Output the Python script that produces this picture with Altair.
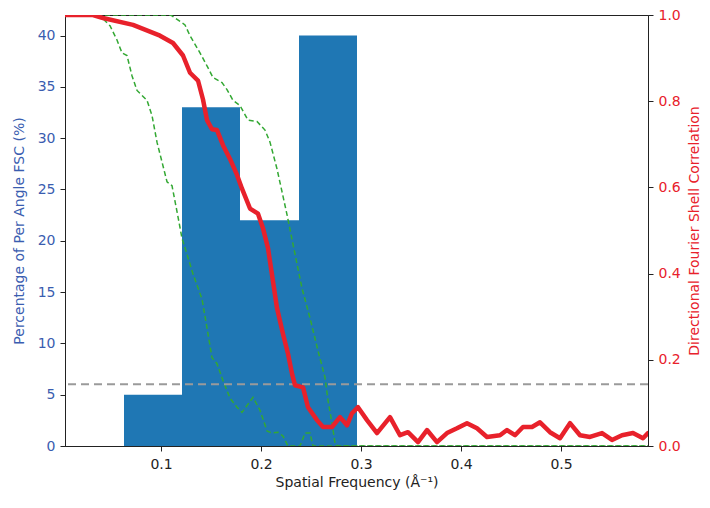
import altair as alt
import pandas as pd

# Histogram of per-angle FSC resolutions
bin_left = [0.063, 0.121, 0.179, 0.238]
bin_right = [0.121, 0.179, 0.238, 0.296]
bin_pct = [5.0, 33.0, 22.0, 40.0]

# Global (mean) directional FSC curve
fsc_freq = [0.004, 0.032, 0.042, 0.072, 0.099, 0.112, 0.122, 0.129, 0.137, 0.142,
            0.146, 0.151, 0.156, 0.162, 0.169, 0.176, 0.181, 0.189, 0.197, 0.202,
            0.207, 0.212, 0.216, 0.222, 0.227, 0.231, 0.234, 0.242, 0.247, 0.256,
            0.262, 0.271, 0.279, 0.286, 0.291, 0.297, 0.306, 0.316, 0.329, 0.339,
            0.347, 0.357, 0.366, 0.376, 0.386, 0.396, 0.406, 0.416, 0.426, 0.439,
            0.446, 0.454, 0.462, 0.471, 0.479, 0.489, 0.499, 0.509, 0.519, 0.529,
            0.541, 0.551, 0.561, 0.572, 0.582, 0.587]
fsc_val = [1.0, 1.0, 0.993, 0.977, 0.952, 0.935, 0.906, 0.866, 0.848, 0.804,
           0.756, 0.735, 0.733, 0.698, 0.666, 0.629, 0.597, 0.551, 0.539, 0.505,
           0.459, 0.382, 0.320, 0.260, 0.214, 0.168, 0.141, 0.136, 0.090, 0.060,
           0.044, 0.044, 0.067, 0.048, 0.076, 0.090, 0.060, 0.030, 0.067, 0.025,
           0.032, 0.009, 0.037, 0.009, 0.030, 0.041, 0.053, 0.041, 0.021, 0.025,
           0.037, 0.025, 0.044, 0.044, 0.055, 0.032, 0.018, 0.053, 0.025, 0.021,
           0.030, 0.014, 0.025, 0.030, 0.018, 0.030]

# Mean - std
lo_freq = [0.004, 0.036, 0.039, 0.049, 0.056, 0.061, 0.066, 0.071, 0.076, 0.086,
           0.091, 0.096, 0.101, 0.106, 0.111, 0.116, 0.121, 0.126, 0.132, 0.141,
           0.146, 0.151, 0.156, 0.162, 0.169, 0.176, 0.181, 0.192, 0.199, 0.206,
           0.211, 0.217, 0.222, 0.227, 0.239, 0.244, 0.249, 0.252, 0.587]
lo_val = [1.0, 1.0, 0.998, 0.975, 0.942, 0.912, 0.906, 0.859, 0.825, 0.802,
          0.767, 0.705, 0.659, 0.613, 0.604, 0.544, 0.482, 0.445, 0.399, 0.341,
          0.274, 0.205, 0.191, 0.152, 0.111, 0.090, 0.078, 0.113, 0.083, 0.035,
          0.030, 0.032, 0.023, 0.0, 0.0, 0.030, 0.030, 0.0, 0.0]

# Mean + std
hi_freq = [0.004, 0.109, 0.111, 0.124, 0.129, 0.139, 0.146, 0.152, 0.161, 0.166,
           0.172, 0.179, 0.187, 0.196, 0.204, 0.209, 0.216, 0.221, 0.226, 0.232,
           0.241, 0.249, 0.257, 0.264, 0.267, 0.271, 0.274, 0.277, 0.587]
hi_val = [1.0, 1.0, 0.998, 0.977, 0.952, 0.912, 0.882, 0.855, 0.843, 0.827,
          0.802, 0.790, 0.756, 0.753, 0.733, 0.705, 0.643, 0.590, 0.537, 0.468,
          0.366, 0.297, 0.221, 0.159, 0.106, 0.053, 0.007, 0.0, 0.0]

threshold = [0.143]

x_ticks = [0.1, 0.2, 0.3, 0.4, 0.5]
left_ticks = [0, 5, 10, 15, 20, 25, 30, 35, 40]
right_ticks = [0.0, 0.2, 0.4, 0.6, 0.8, 1.0]

BLUE_TXT = "#3a5db0"
RED = "#e8212b"
BAR = "#1f77b4"
GREEN = "#33a833"
GRAY = "#9a9a9a"
FONT = "DejaVu Sans"

hist_df = pd.DataFrame({"left": bin_left, "right": bin_right, "pct": bin_pct,
                        "base": [0.0] * len(bin_pct)})
fsc_df = pd.DataFrame({"freq": fsc_freq, "fsc": fsc_val})
std_df = pd.concat([
    pd.DataFrame({"freq": lo_freq, "fsc": lo_val, "series": "lower"}),
    pd.DataFrame({"freq": hi_freq, "fsc": hi_val, "series": "upper"}),
])
thr_df = pd.DataFrame({"fsc": threshold})

x_scale = alt.Scale(domain=[0.004, 0.587], nice=False, zero=False)
x_axis = alt.Axis(values=x_ticks, format=".1f", title="Spatial Frequency (Å⁻¹)",
                  labelColor="#222222", titleColor="#222222", labelPadding=6,
                  titlePadding=4)

def fsc_y(field="fsc"):
    return alt.Y(f"{field}:Q",
                 scale=alt.Scale(domain=[0, 1], nice=False),
                 axis=alt.Axis(orient="right", values=right_ticks, format=".1f",
                               title="Directional Fourier Shell Correlation",
                               labelColor=RED, titleColor=RED, titleAngle=270,
                               titleBaseline="top",
                               labelPadding=5, titlePadding=7))

bars = alt.Chart(hist_df).mark_rect(color=BAR, clip=True).encode(
    x=alt.X("left:Q", scale=x_scale, axis=x_axis),
    x2="right:Q",
    y=alt.Y("pct:Q", scale=alt.Scale(domain=[0, 42], nice=False),
            axis=alt.Axis(orient="left", values=left_ticks,
                          title="Percentage of Per Angle FSC (%)",
                          labelColor=BLUE_TXT, titleColor=BLUE_TXT,
                          labelPadding=5, titlePadding=11)),
    y2="base:Q",
)

green = alt.Chart(std_df).mark_line(color=GREEN, strokeWidth=1.5,
                                    strokeDash=[5, 3], clip=True).encode(
    x=alt.X("freq:Q", scale=x_scale, axis=x_axis),
    y=fsc_y(),
    detail="series:N",
)

rule = alt.Chart(thr_df).mark_rule(color=GRAY, strokeWidth=2,
                                   strokeDash=[8, 5]).encode(
    y=fsc_y(),
)

red = alt.Chart(fsc_df).mark_line(color=RED, strokeWidth=4.5, strokeJoin="round",
                                  strokeCap="round", clip=True).encode(
    x=alt.X("freq:Q", scale=x_scale, axis=x_axis),
    y=fsc_y(),
)

fsc_layer = alt.layer(green, rule, red)

chart = alt.layer(bars, fsc_layer).resolve_scale(y="independent").properties(
    width=583,
    height=431,
    autosize=alt.AutoSizeParams(type="none"),
    padding={"left": 57, "top": 7, "right": 54, "bottom": 48},
).configure_view(
    stroke="#222222", strokeWidth=1
).configure_axis(
    grid=False,
    domainColor="#222222",
    tickColor="#222222",
    tickSize=5,
    labelFont=FONT,
    labelFontSize=14,
    titleFont=FONT,
    titleFontSize=14,
    titleFontWeight="normal",
)

chart.save("out.html", embed_options={"renderer": "svg", "actions": False})
